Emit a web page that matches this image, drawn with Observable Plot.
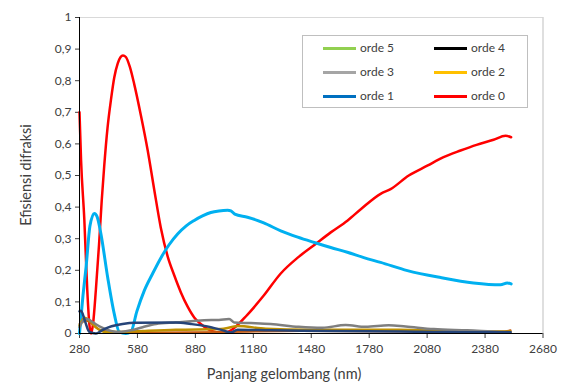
<!DOCTYPE html>
<html>
<head>
<meta charset="utf-8">
<script src="https://cdn.jsdelivr.net/npm/d3@7"></script>
<script src="https://cdn.jsdelivr.net/npm/@observablehq/plot@0.6"></script>
<style>
  body { margin: 0; background: #fff; }
  #wrap { position: relative; width: 566px; height: 389px; font-family: Lato, "Open Sans", sans-serif; color: #404040; }
  .ttl { position: absolute; font-size: 14.5px; color: #404040; white-space: nowrap; }
  #legend { position: absolute; left: 302px; top: 35px; width: 224px; height: 71px; border: 1px solid #bfbfbf; background: #fff; }
  .li { position: absolute; font-size: 12px; color: #404040; white-space: nowrap; height: 14px; }
  .li .sw { position: absolute; left: 0; top: 6px; width: 33px; height: 2.5px; }
  .li .lb { position: absolute; left: 37px; top: -1px; }
</style>
</head>
<body>
<div id="wrap"></div>
<script>
// ---- data (wavelength nm, diffraction efficiency) ----
const wavelengthTicks = [280, 580, 880, 1180, 1480, 1780, 2080, 2380, 2680];
const efficiencyTicks = [0, 0.1, 0.2, 0.3, 0.4, 0.5, 0.6, 0.7, 0.8, 0.9, 1];
const seriesNames = ["orde 5", "orde 4", "orde 3", "orde 2", "orde 1", "orde 0"];
const legendColors = ["#92d050", "#000000", "#a5a5a5", "#ffc000", "#0070c0", "#ff0000"];
const lineColors = ["#c55a11", "#264478", "#7f7f7f", "#bf9000", "#00b0f0", "#ff0000"];

const orde0 = [[280,0.70],[288,0.55],[305,0.36],[320,0.14],[331,0.03],[340,0.0],[350,0.03],[365,0.14],[381,0.28],[395,0.42],[408,0.53],[425,0.65],[443,0.74],[460,0.81],[478,0.855],[493,0.875],[505,0.88],[520,0.875],[540,0.845],[563,0.79],[598,0.69],[633,0.58],[667,0.455],[701,0.335],[736,0.245],[770,0.185],[805,0.13],[840,0.085],[875,0.05],[908,0.03],[950,0.012],[990,0.004],[1040,0.004],[1064,0.01],[1150,0.06],[1234,0.12],[1322,0.19],[1410,0.24],[1496,0.28],[1581,0.32],[1667,0.357],[1738,0.394],[1839,0.442],[1891,0.457],[1985,0.50],[2081,0.531],[2165,0.558],[2253,0.579],[2336,0.597],[2424,0.613],[2486,0.626],[2515,0.621]];
const orde1 = [[280,0.0],[298,0.12],[314,0.21],[334,0.34],[357,0.38],[371,0.37],[391,0.315],[426,0.177],[460,0.062],[486,0.005],[520,0.0],[546,0.005],[577,0.07],[615,0.135],[659,0.19],[702,0.24],[743,0.28],[788,0.315],[831,0.34],[872,0.357],[917,0.372],[960,0.383],[1002,0.388],[1047,0.39],[1064,0.388],[1084,0.378],[1150,0.368],[1234,0.35],[1322,0.325],[1410,0.305],[1496,0.288],[1581,0.272],[1667,0.257],[1752,0.24],[1839,0.225],[1978,0.199],[2150,0.177],[2320,0.16],[2460,0.154],[2495,0.16],[2515,0.157]];
const orde2 = [[280,0.025],[305,0.05],[334,0.04],[365,0.02],[417,0.005],[495,0.005],[607,0.008],[779,0.012],[1012,0.014],[1064,0.02],[1098,0.024],[1245,0.015],[1467,0.012],[1933,0.012],[2201,0.008],[2512,0.006]];
const orde3 = [[280,0.02],[298,0.04],[319,0.046],[350,0.035],[391,0.02],[443,0.008],[484,0.005],[546,0.01],[607,0.02],[676,0.03],[779,0.035],[925,0.042],[1002,0.043],[1055,0.046],[1081,0.035],[1167,0.033],[1270,0.03],[1415,0.021],[1538,0.018],[1658,0.027],[1762,0.021],[1881,0.026],[1969,0.022],[2114,0.014],[2288,0.01],[2460,0.005],[2512,0.004]];
const orde4 = [[280,0.07],[288,0.072],[308,0.04],[331,0.005],[365,0.0],[396,0.01],[433,0.02],[503,0.03],[572,0.034],[779,0.035],[857,0.03],[960,0.02],[1022,0.01],[1064,0.003],[1098,0.012],[1270,0.01],[1581,0.008],[1943,0.006],[2253,0.004],[2512,0.004]];
const orde5 = [[280,0.03],[314,0.04],[391,0.01],[546,0.003],[1064,0.005],[1426,0.008],[1943,0.006],[2460,0.006],[2512,0.01]];

const fmt = d => String(+d.toFixed(1)).replace(".", ",");

const lineOpts = (c, w) => ({x: d => d[0], y: d => d[1], stroke: c, strokeWidth: w, curve: "monotone-x", strokeLinejoin: "round", strokeLinecap: "round"});

const chart = Plot.plot({
  width: 566,
  height: 389,
  marginLeft: 79,
  marginRight: 23.5,
  marginTop: 17,
  marginBottom: 56,
  style: {fontFamily: "Lato, 'Open Sans', sans-serif", fontSize: "12px", color: "#404040", background: "#fff"},
  x: {domain: [280, 2680], ticks: wavelengthTicks},
  y: {domain: [0, 1], ticks: efficiencyTicks},
  marks: [
    Plot.ruleY([1], {stroke: "#d9d9d9", strokeWidth: 1}),
    Plot.ruleX([2680], {stroke: "#bfbfbf", strokeWidth: 1}),
    Plot.axisX({ticks: wavelengthTicks, tickSize: 5, tickPadding: 6, label: null, tickFormat: d => String(d), stroke: "#404040", fontSize: 12}),
    Plot.axisY({ticks: efficiencyTicks, tickSize: 4, tickPadding: 4, label: null, tickFormat: fmt, stroke: "#404040", fontSize: 12}),
    Plot.line(orde0, lineOpts(lineColors[5], 2.5)),
    Plot.line(orde1, lineOpts(lineColors[4], 3)),
    Plot.line(orde5, lineOpts(lineColors[0], 2)),
    Plot.line(orde2, lineOpts(lineColors[3], 2.5)),
    Plot.line(orde3, lineOpts(lineColors[2], 2.5)),
    Plot.line(orde4, lineOpts(lineColors[1], 2.5)),
    Plot.ruleY([0], {stroke: "#000", strokeWidth: 1}),
    Plot.ruleX([280], {stroke: "#000", strokeWidth: 1})
  ]
});

const wrap = document.getElementById("wrap");
wrap.appendChild(chart);

const xt = document.createElement("div");
xt.className = "ttl";
xt.textContent = "Panjang gelombang (nm)";
xt.style.left = "284px"; xt.style.top = "365px"; xt.style.transform = "translateX(-50%)";
wrap.appendChild(xt);

const yt = document.createElement("div");
yt.className = "ttl";
yt.textContent = "Efisiensi difraksi";
yt.style.left = "25px"; yt.style.top = "175px"; yt.style.transform = "translate(-50%,-50%) rotate(-90deg)";
wrap.appendChild(yt);

const lg = document.createElement("div");
lg.id = "legend";
const pos = [[20, 5], [131, 5], [20, 29], [131, 29], [20, 53], [131, 53]];
seriesNames.forEach((n, i) => {
  const it = document.createElement("div");
  it.className = "li";
  it.style.left = pos[i][0] + "px"; it.style.top = pos[i][1] + "px";
  const sw = document.createElement("div"); sw.className = "sw"; sw.style.background = legendColors[i];
  const lb = document.createElement("div"); lb.className = "lb"; lb.textContent = n;
  it.appendChild(sw); it.appendChild(lb);
  lg.appendChild(it);
});
wrap.appendChild(lg);
</script>
</body>
</html>
